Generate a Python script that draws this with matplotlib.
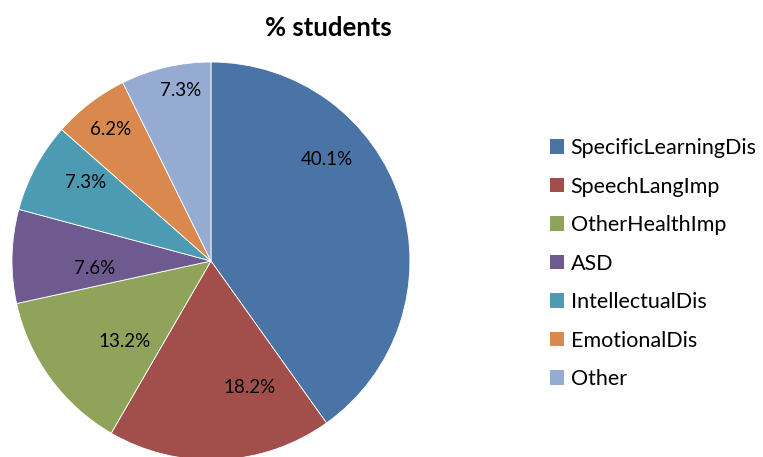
import matplotlib
matplotlib.use("Agg")
import matplotlib.pyplot as plt
from matplotlib.patches import Patch

# ── Data ────────────────────────────────────────────────────
categories = ["SpecificLearningDis", "SpeechLangImp", "OtherHealthImp", "ASD",
              "IntellectualDis", "EmotionalDis", "Other"]
percent = [40.1, 18.2, 13.2, 7.6, 7.3, 6.2, 7.3]
colours = ["#4A74A5", "#A24F4B", "#8FA45A", "#6E5A8F", "#4D9BB2", "#D9894E", "#95ABD2"]

# label anchor points in pie-radius units (Excel "best fit" placement)
label_xy = [(0.583, 0.508), (0.196, -0.638), (-0.432, -0.407), (-0.583, -0.040),
            (-0.628, 0.392), (-0.503, 0.663), (-0.151, 0.859)]

plt.rcParams["font.family"] = ["Lato", "DejaVu Sans"]

fig = plt.figure(figsize=(7.63, 4.57), dpi=100)
ax = fig.add_axes([0.0157, -0.0066, 0.5216, 0.871])

wedges, _ = ax.pie(percent, colors=colours, startangle=90, counterclock=False,
                   radius=1.0, wedgeprops=dict(edgecolor="white", linewidth=0.6))
ax.set_xlim(-1, 1)
ax.set_ylim(-1, 1)
ax.set_aspect("equal")
ax.axis("off")

# Percent labels
for v, (x, y) in zip(percent, label_xy):
    ax.text(x, y, f"{v:.1f}%", ha="center", va="center", fontsize=13.5, color="black")

fig.text(0.431, 0.939, "% students", ha="center", va="center",
         fontsize=18.5, fontweight="bold")

handles = [Patch(facecolor=c, edgecolor="none") for c in colours]
fig.legend(handles, categories, loc="center left", bbox_to_anchor=(0.695, 0.423),
           frameon=False, fontsize=15.5, handlelength=0.65, handleheight=0.65,
           handletextpad=0.33, labelspacing=0.86)

plt.savefig("out.png", dpi=100)
